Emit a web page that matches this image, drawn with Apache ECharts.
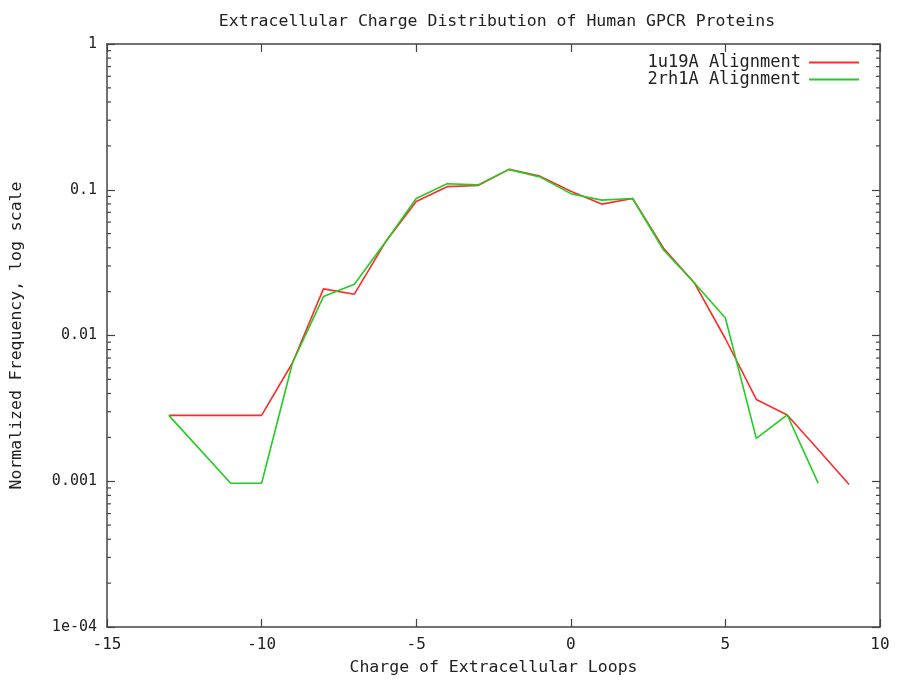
<!DOCTYPE html>
<html>
<head>
<meta charset="utf-8">
<script src="https://cdn.jsdelivr.net/npm/echarts@6/dist/echarts.min.js"></script>
<style>html,body{margin:0;padding:0;background:#fff}#c{width:900px;height:681px}</style>
</head>
<body>
<div id="c"></div>
<script>
const titleText = 'Extracellular Charge Distribution of Human GPCR Proteins';
const xName = 'Charge of Extracellular Loops';
const yName = 'Normalized Frequency, log scale';
const seriesNames = ['1u19A Alignment', '2rh1A Alignment'];
const redX = [-13,-10,-9,-8,-7,-6,-5,-4,-3,-2,-1,0,1,2,3,4,5,6,7,8,9];
const redY = [0.00283,0.00283,0.0065,0.0209,0.0192,0.0436,0.083,0.105,0.107,0.138,0.124,0.0977,0.0797,0.0871,0.0397,0.0229,0.0095,0.00364,0.00285,0.00165,0.00095];
const greenX = [-13,-11,-10,-9,-8,-7,-6,-5,-4,-3,-2,-1,0,1,2,3,4,5,6,7,8];
const greenY = [0.00283,0.00097,0.00097,0.0065,0.0185,0.0225,0.0436,0.087,0.110,0.108,0.138,0.1225,0.094,0.0849,0.0871,0.0386,0.0229,0.0132,0.00197,0.00285,0.00097];
const yTickValues = [0.0001,0.001,0.01,0.1,1];
const yTickLabels = ['1e-04','0.001','0.01','0.1','1'];
const minorMultipliers = [2,3,4,5,6,7,8,9];

const X_MIN = -15, X_MAX = 10;
const minorVals = [];
for (let d = 0; d < 4; d++) {
  for (const m of minorMultipliers) minorVals.push(m * yTickValues[d]);
}

const FONT = '"DejaVu Sans Mono", "Liberation Mono", monospace';
const AX = '#444';
const FS = 16;

const chart = echarts.init(document.getElementById('c'));
const zip = (xs, ys) => xs.map((x, i) => [x, ys[i]]);

function fmtY(v) {
  for (let i = 0; i < yTickValues.length; i++) {
    if (Math.abs(Math.log10(v) - Math.log10(yTickValues[i])) < 1e-6) return yTickLabels[i];
  }
  return '';
}

chart.setOption({
  animation: false,
  backgroundColor: '#fff',
  title: {
    text: titleText,
    left: 492, top: 8, textAlign: 'center',
    textStyle: {fontFamily: FONT, fontSize: 16.5, fontWeight: 'normal', color: '#222'}
  },
  legend: {
    orient: 'vertical', right: 36, top: 49, align: 'right',
    itemWidth: 50, itemHeight: 2, itemGap: 0,
    icon: 'rect',
    textStyle: {fontFamily: FONT, fontSize: 17, color: '#222', padding: [0, 3, 0, 0]},
    data: seriesNames
  },
  grid: {left: 106, right: 20, top: 44, bottom: 50},
  xAxis: [{
    type: 'value', min: X_MIN, max: X_MAX, interval: 5,
    position: 'bottom',
    name: xName, nameLocation: 'middle', nameGap: 32,
    nameTextStyle: {fontFamily: FONT, fontSize: 16.5, color: '#222'},
    axisLine: {show: true, onZero: false, lineStyle: {color: AX, width: 1.5}},
    axisTick: {show: true, inside: true, length: 8, lineStyle: {color: AX, width: 1.2}},
    axisLabel: {fontFamily: FONT, fontSize: FS, color: '#222', margin: 10},
    splitLine: {show: false}
  }, {
    type: 'value', min: X_MIN, max: X_MAX, interval: 5,
    position: 'top',
    axisLine: {show: true, onZero: false, lineStyle: {color: AX, width: 1.5}},
    axisTick: {show: true, inside: true, length: 8, lineStyle: {color: AX, width: 1.2}},
    axisLabel: {show: false},
    splitLine: {show: false}
  }],
  yAxis: [{
    type: 'log', logBase: 10, min: 0.0001, max: 1,
    position: 'left',
    name: yName, nameLocation: 'middle', nameGap: 82,
    nameTextStyle: {fontFamily: FONT, fontSize: 16.5, color: '#222'},
    axisLine: {show: true, onZero: false, lineStyle: {color: AX, width: 1.5}},
    axisTick: {show: true, inside: true, length: 8, lineStyle: {color: AX, width: 1.2}},
    axisLabel: {fontFamily: FONT, fontSize: 15, color: '#222', margin: 10, formatter: fmtY},
    splitLine: {show: false}
  }, {
    type: 'log', logBase: 10, min: 0.0001, max: 1,
    position: 'right',
    axisLine: {show: true, onZero: false, lineStyle: {color: AX, width: 1.5}},
    axisTick: {show: true, inside: true, length: 8, lineStyle: {color: AX, width: 1.2}},
    axisLabel: {show: false},
    splitLine: {show: false}
  }],
  series: [{
    name: seriesNames[0], type: 'line', data: zip(redX, redY),
    showSymbol: false, symbol: 'none', color: '#ff2a2a',
    lineStyle: {width: 1.6, color: '#ff2a2a'}
  }, {
    name: seriesNames[1], type: 'line', data: zip(greenX, greenY),
    showSymbol: false, symbol: 'none', color: '#22cc22',
    lineStyle: {width: 1.6, color: '#22cc22'}
  }, {
    type: 'custom', silent: true, clip: false,
    data: minorVals.map(v => [X_MIN, v]),
    renderItem: function (params, api) {
      const v = api.value(1);
      const pl = api.coord([X_MIN, v]);
      const pr = api.coord([X_MAX, v]);
      const st = {stroke: AX, lineWidth: 1.2};
      return {
        type: 'group',
        children: [
          {type: 'line', shape: {x1: pl[0], y1: pl[1], x2: pl[0] + 4, y2: pl[1]}, style: st},
          {type: 'line', shape: {x1: pr[0], y1: pr[1], x2: pr[0] - 4, y2: pr[1]}, style: st}
        ]
      };
    }
  }]
});
</script>
</body>
</html>
